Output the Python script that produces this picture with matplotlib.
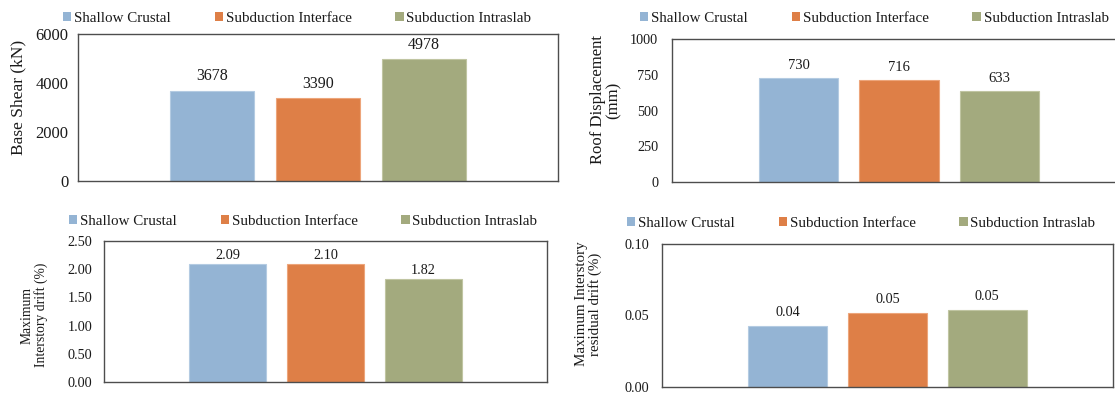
import matplotlib
matplotlib.use("Agg")
import matplotlib.pyplot as plt
from matplotlib.patches import Patch

plt.rcParams["font.family"] = ["Liberation Serif", "DejaVu Serif"]

# Data
event_types = ["Shallow Crustal", "Subduction Interface", "Subduction Intraslab"]
base_shear = [3678, 3390, 4978]            # kN
roof_displacement = [730, 716, 633]        # mm
max_drift = [2.09, 2.10, 1.82]             # %
max_residual_drift = [0.043, 0.052, 0.054] # %

base_shear_ticks = [0, 2000, 4000, 6000]
roof_ticks = [0, 250, 500, 750, 1000]
drift_ticks = [0.00, 0.50, 1.00, 1.50, 2.00, 2.50]
residual_ticks = [0.00, 0.05, 0.10]

colors = ["#94B4D4", "#DE7F47", "#A3AA7E"]
edge_colors = ["#B4CBE2", "#EDA57B", "#C0C5A2"]
frame_color = "#4d4d4d"
text_color = "#1a1a1a"

W, H = 1115, 394
fig = plt.figure(figsize=(W / 100, H / 100), dpi=100)


def px_axes(left, right, top, bottom):
    return fig.add_axes([left / W, 1 - bottom / H, (right - left) / W, (bottom - top) / H])


panels = [
    dict(box=(78, 558, 34, 181), values=base_shear, ticks=base_shear_ticks,
         fmt="{:.0f}", tickfmt="{:.0f}", tick_fs=11.9, label_fs=11.5, gap=7.5,
         tickpad=7.0, ylabel="Base Shear (kN)", ylabel_fs=12.5, ylabel_xy=(18, 97),
         legend_xy=(63, 18.5)),
    dict(box=(672, 1126, 39, 182), values=roof_displacement, ticks=roof_ticks,
         fmt="{:.0f}", tickfmt="{:.0f}", tick_fs=10.3, label_fs=10.5, gap=6.5,
         tickpad=10.0, ylabel="Roof Displacement\n(mm)", ylabel_fs=12.0,
         ylabel_xy=(606, 100), legend_xy=(640, 18.5)),
    dict(box=(104, 547, 241, 382), values=max_drift, ticks=drift_ticks,
         fmt="{:.2f}", tickfmt="{:.2f}", tick_fs=10.3, label_fs=10.3, gap=3.5,
         tickpad=8.6, ylabel="Maximum\nInterstory drift (%)", ylabel_fs=9.8,
         ylabel_xy=(34.5, 315), legend_xy=(69, 221.5)),
    dict(box=(662, 1113, 244, 387), values=max_residual_drift, ticks=residual_ticks,
         fmt="{:.2f}", tickfmt="{:.2f}", tick_fs=10.3, label_fs=10.3, gap=7.0,
         tickpad=9.4, ylabel="Maximum Interstory\nresidual drift (%)", ylabel_fs=10.8,
         ylabel_xy=(588.5, 304), legend_xy=(627, 223.5)),
]

x = list(range(len(event_types)))

for p in panels:
    left, right, top, bottom = p["box"]
    ax = px_axes(left, right, top, bottom)
    bars = ax.bar(x, p["values"], width=0.79, color=colors,
                  edgecolor=edge_colors, linewidth=0.8, zorder=2)
    ax.set_xlim(-1.26, 3.26)
    ax.set_ylim(p["ticks"][0], p["ticks"][-1])
    ax.set_yticks(p["ticks"])
    ax.set_yticklabels([p["tickfmt"].format(t) for t in p["ticks"]],
                       fontsize=p["tick_fs"], color=text_color)
    ax.set_xticks([])
    ax.tick_params(axis="y", length=0, pad=p["tickpad"])
    for s in ax.spines.values():
        s.set_color(frame_color)
        s.set_linewidth(1.0)

    for b, v in zip(bars, p["values"]):
        ax.annotate(p["fmt"].format(v), (b.get_x() + b.get_width() / 2, v),
                    xytext=(0, p["gap"]), textcoords="offset points",
                    ha="center", va="baseline", fontsize=p["label_fs"],
                    color=text_color)

    ax.set_ylabel(p["ylabel"], fontsize=p["ylabel_fs"], color=text_color,
                  linespacing=1.0, va="center", ha="center")
    lx, ly = p["ylabel_xy"]
    ax.yaxis.set_label_coords(lx / W, 1 - ly / H, transform=fig.transFigure)

    handles = [Patch(facecolor=c, edgecolor="none") for c in colors]
    gx, gy = p["legend_xy"]
    fig.legend(handles, event_types, loc="center left",
               bbox_to_anchor=(gx / W, 1 - gy / H), ncol=3, frameon=False,
               fontsize=10.8, handlelength=0.55, handleheight=0.55,
               handletextpad=0.2, columnspacing=2.9, borderpad=0,
               borderaxespad=0, labelcolor=text_color)

fig.savefig("out.png", dpi=100)
